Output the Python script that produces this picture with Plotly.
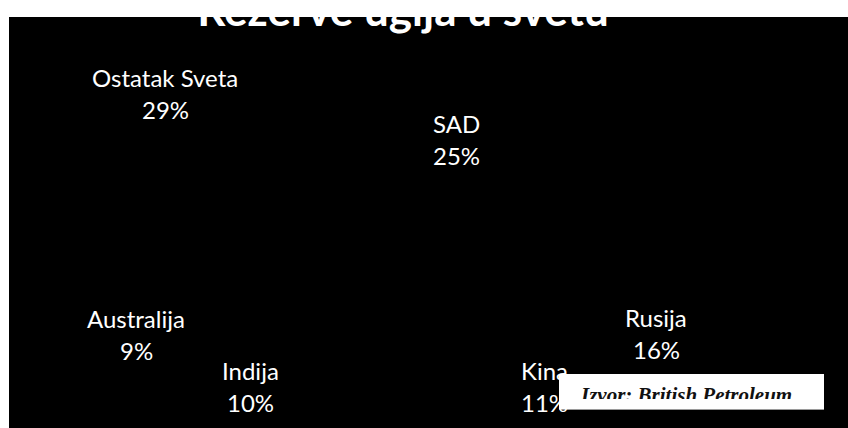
import plotly.graph_objects as go

W, H = 848, 428
PAGE_OFF = 0  # page margin removed via post_script

# ---- data ----
countries = ["Ostatak Sveta", "SAD", "Rusija", "Kina", "Indija", "Australija"]
shares = [29, 25, 16, 11, 10, 9]
title_text = "Rezerve uglja u svetu"
source_text = "Izvor: British Petroleum"

# ---- label layout (pixel centre x, baseline of first line) ----
label_pos = {
    "Ostatak Sveta": (165, 87),
    "SAD": (456, 133),
    "Rusija": (656, 327),
    "Kina": (544, 380),
    "Indija": (250, 380),
    "Australija": (136, 328),
}
LINE_GAP = 32
LABEL_FONT = dict(family="Lato", size=24, color="white")


def px(x):
    return (x - PAGE_OFF) / W


def py(y):
    return 1 - (y - PAGE_OFF) / H


fig = go.Figure()
fig.add_trace(go.Pie(
    labels=countries,
    values=shares,
    sort=False,
    direction="clockwise",
    rotation=0,
    marker=dict(colors=["black"] * len(countries), line=dict(color="black", width=0)),
    textinfo="none",
    hoverinfo="label+percent",
    showlegend=False,
    domain=dict(x=[0.3, 0.7], y=[0.15, 0.8]),
))

annotations = []
OFF = 0.39 * LABEL_FONT["size"]
ordered = ["Ostatak Sveta", "SAD", "Rusija", "Australija", "Indija", "Kina"]
for name in ordered:
    val = shares[countries.index(name)]
    cx, b1 = label_pos[name]
    for i, txt in enumerate([name, f"{val}%"]):
        annotations.append(dict(
            x=px(cx), y=py(b1 + i * LINE_GAP - OFF), xref="paper", yref="paper",
            text=txt, showarrow=False, xanchor="center", yanchor="middle",
            font=LABEL_FONT,
        ))

# source box (drawn above Kina label)
bx0, by0, bx1, by1 = 559, 374, 824, 409
SRC_SIZE = 21
annotations.append(dict(
    x=px(bx0), y=py(by0), xref="paper", yref="paper", xanchor="left", yanchor="top",
    text=" ", showarrow=False, width=bx1 - bx0, height=by1 - by0,
    bgcolor="white", borderpad=0, borderwidth=0,
))
annotations.append(dict(
    x=px(578), y=py(403 - 0.39 * SRC_SIZE), xref="paper", yref="paper", xanchor="left", yanchor="middle",
    text=f"<b><i>{source_text}</i></b>", showarrow=False,
    font=dict(family="Liberation Serif", size=SRC_SIZE, color="#111111"),
))
# clip the bottom of the source text
annotations.append(dict(
    x=px(bx0), y=py(399), xref="paper", yref="paper", xanchor="left", yanchor="top",
    text=" ", showarrow=False, width=bx1 - bx0, height=by1 - 399 - 1,
    bgcolor="white", borderpad=0, borderwidth=0,
))

TITLE_SIZE = 44
fig.update_layout(
    width=W, height=H,
    margin=dict(l=0, r=0, t=0, b=0),
    paper_bgcolor="white",
    title=dict(
        text=f"<b>{title_text}</b>",
        x=px(403), xanchor="center",
        y=py(28 - 0.39 * TITLE_SIZE), yanchor="middle", yref="container",
        font=dict(family="Lato", size=TITLE_SIZE, color="white"),
    ),
    shapes=[
        dict(type="rect", xref="paper", yref="paper", x0=px(9), x1=1.0, y0=0.0, y1=py(17),
             fillcolor="black", line=dict(width=0), layer="below"),
        dict(type="line", xref="paper", yref="paper", x0=px(bx0), x1=px(bx1), y0=py(by1 + 0.5), y1=py(by1 + 0.5),
             line=dict(color="#9a9a9a", width=1), layer="above"),
    ],
    annotations=annotations,
)

fig.write_html(
    "out.html",
    config={"displayModeBar": False},
    post_script="document.body.style.margin='0px';document.body.style.overflow='hidden';",
)
